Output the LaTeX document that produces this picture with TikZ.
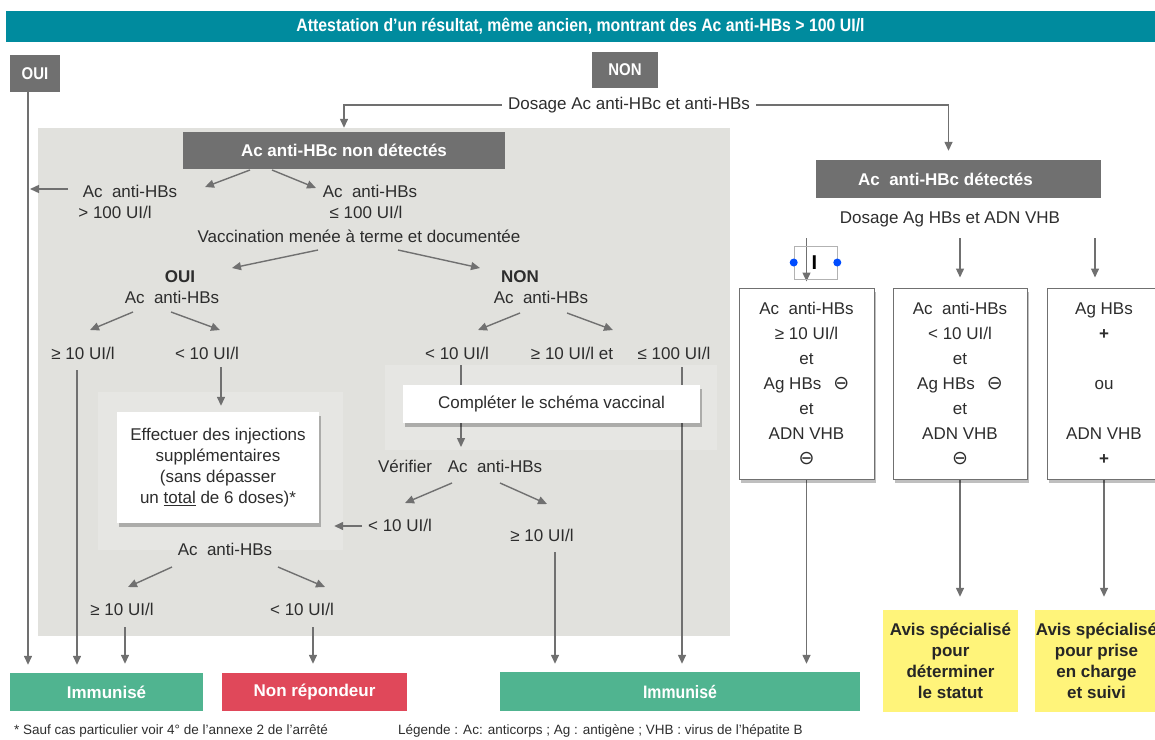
\documentclass[tikz,border=0pt]{standalone}
\usepackage{fontspec}
\setmainfont{Liberation Sans}
\newfontfamily\condf[FakeStretch=0.88]{Liberation Sans}
\newfontfamily\symf{DejaVu Sans}
\usetikzlibrary{arrows.meta,calc,shadows}
\definecolor{teal1}{RGB}{0,139,158}
\definecolor{dgray}{RGB}{112,112,112}
\definecolor{bggray}{RGB}{225,225,221}
\definecolor{patchc}{RGB}{230,230,227}
\definecolor{lgreen}{RGB}{80,180,144}
\definecolor{lred}{RGB}{224,72,90}
\definecolor{lyellow}{RGB}{255,244,122}
\definecolor{lcol}{RGB}{112,112,112}
\definecolor{tcol}{RGB}{45,45,45}
\pgfdeclarelayer{bg}
\pgfdeclarelayer{lines}
\pgfsetlayers{bg,lines,main}
\newcommand{\om}{{\symf\fontsize{19}{20}\selectfont ⊖}}
\tikzset{
  txt/.style={text=tcol, font=\fontsize{17}{20}\selectfont, inner sep=1pt},
  conn/.style={draw=lcol, line width=1.4pt},
  arr/.style={conn, -{Triangle[length=9pt,width=8pt]}},
  headbox/.style={fill=dgray, text=white, font=\bfseries\fontsize{17}{20}\selectfont, inner sep=0pt},
  smallhead/.style={fill=dgray, text=white, font=\condf\bfseries\fontsize{17}{20}\selectfont, inner sep=0pt},
  shad/.style={drop shadow={shadow xshift=2pt, shadow yshift=-4pt, opacity=0.25, fill=black}},
  whitebox/.style={fill=white, text=tcol, align=center, inner sep=0pt, shad},
  framebox/.style={whitebox, draw=dgray, line width=1pt, font=\fontsize{17}{25}\selectfont},
  resbox/.style={text=white, inner sep=0pt, font=\bfseries\fontsize{17}{20}\selectfont},
  yelbox/.style={fill=lyellow, text=black!85, align=center, inner sep=0pt, font=\bfseries\fontsize{17}{21}\selectfont},
  foot/.style={text=tcol, font=\fontsize{13.5}{16}\selectfont, inner sep=0pt, anchor=west}
}
\begin{document}
\begin{tikzpicture}[x=1pt,y=-1pt]
\useasboundingbox (0,0) rectangle (1155,739);
\begin{pgfonlayer}{bg}
  \fill[bggray] (38,128) rectangle (730,636);
  \fill[patchc] (98,392) rectangle (343,550);
  \fill[patchc] (385,365) rectangle (717,450);
\end{pgfonlayer}

% header
\node[fill=teal1, text=white, font=\condf\bfseries\fontsize{18}{20}\selectfont, minimum width=1149pt, minimum height=31pt, inner sep=0pt] (title) at (580.5,26.5) {Attestation d’un résultat, même ancien, montrant des Ac anti-HBs > 100 UI/l};
\node[smallhead, minimum width=50pt, minimum height=37pt] (oui) at (35,73.5) {OUI};
\node[smallhead, minimum width=66pt, minimum height=36pt] (non) at (625,70) {NON};
\node[txt, inner sep=6pt] (dosage1) at (629,105) {Dosage Ac anti-HBc et anti-HBs};

% left branch
\node[headbox, minimum width=322pt, minimum height=37pt] (nd) at (344,150.5) {Ac anti-HBc non détectés};
\node[txt] (hbsA) at (130,191) {Ac~~anti-HBs};
\node[txt] (gt100) at (115,212) {> 100 UI/l};
\node[txt] (hbsB) at (370,191) {Ac~~anti-HBs};
\node[txt] (le100) at (366,212) {≤ 100 UI/l};
\node[txt] (vacc) at (359,236) {Vaccination menée à terme et documentée};
\node[txt, font=\bfseries\fontsize{17}{20}\selectfont] (oui2) at (180,277) {OUI};
\node[txt] (hbsC) at (172,297) {Ac~~anti-HBs};
\node[txt] (ge10a) at (83,353) {≥ 10 UI/l};
\node[txt] (lt10a) at (207,353) {< 10 UI/l};
\node[whitebox, minimum width=202pt, minimum height=111pt, font=\fontsize{17}{21}\selectfont] (eff) at (218,467.5) {Effectuer des injections\\supplémentaires\\(sans dépasser\\un \underline{total} de 6 doses)*};
\node[txt] (hbsD) at (225,549) {Ac~~anti-HBs};
\node[txt] (ge10b) at (122,609) {≥ 10 UI/l};
\node[txt] (lt10b) at (302,609) {< 10 UI/l};
\node[resbox, fill=lgreen, minimum width=193pt, minimum height=38pt] (imm1) at (106.5,692) {Immunisé};
\node[resbox, fill=lred, minimum width=185pt, minimum height=38pt] (nonrep) at (314.5,692) {Non répondeur};

% NON sub-branch
\node[txt, font=\bfseries\fontsize{17}{20}\selectfont] (non2) at (520,277) {NON};
\node[txt] (hbsE) at (541,297) {Ac~~anti-HBs};
\node[txt] (lt10c) at (457,353) {< 10 UI/l};
\node[txt] (ge10et) at (572,353) {≥ 10 UI/l et};
\node[txt] (le100b) at (674,353) {≤ 100 UI/l};
\node[whitebox, minimum width=297pt, minimum height=38pt, font=\fontsize{17}{20}\selectfont] (compl) at (551.5,404) {Compléter le schéma vaccinal};
\node[txt] (verif) at (405,466) {Vérifier};
\node[txt] (hbsF) at (495,466) {Ac~~anti-HBs};
\node[txt] (lt10d) at (400,525) {< 10 UI/l};
\node[txt] (ge10c) at (542,535) {≥ 10 UI/l};
\node[resbox, fill=lgreen, font=\condf\bfseries\fontsize{18}{20}\selectfont, minimum width=360pt, minimum height=39pt] (imm2) at (680,691.5) {Immunisé};

% right branch
\node[headbox, minimum width=285pt, minimum height=38pt] (det) at (958.5,179) {Ac~~anti-HBc détectés\hspace*{26pt}};
\node[txt] (dosage2) at (950,219) {Dosage Ag HBs et ADN VHB};
\node[framebox, minimum width=135pt, minimum height=191pt] (b1) at (806.5,383.5) {Ac~~anti-HBs\\≥ 10 UI/l\\et\\Ag HBs\hspace{12pt}\om\\et\\ADN VHB\\\om};
\node[framebox, minimum width=134pt, minimum height=191pt] (b2) at (960,383.5) {Ac~~anti-HBs\\< 10 UI/l\\et\\Ag HBs\hspace{12pt}\om\\et\\ADN VHB\\\om};
\node[framebox, minimum width=114pt, minimum height=191pt] (b3) at (1104,383.5) {Ag HBs\\\textbf{+}\\[25pt]ou\\[25pt]ADN VHB\\\textbf{+}};
\node[draw=gray!60, line width=0.6pt, minimum width=43pt, minimum height=33pt, inner sep=0pt, font=\bfseries\fontsize{20}{20}\selectfont] (cursor) at (815.5,262.5) {I\hspace*{2pt}};
\fill[blue!70!cyan] (cursor.west) circle (4pt) (cursor.east) circle (4pt);
\node[yelbox, minimum width=135pt, minimum height=102pt] (y1) at (950.5,661) {Avis spécialisé\\pour\\déterminer\\le statut};
\node[yelbox, minimum width=123pt, minimum height=102pt] (y2) at (1096.5,661) {Avis spécialisé\\pour prise\\en charge\\et suivi};

% footnotes
\node[foot] (f1) at (14,731) {* Sauf cas particulier voir 4° de l’annexe 2 de l’arrêté};
\node[foot] (f2) at (398,731) {Légende : Ac: anticorps ; Ag : antigène ; VHB : virus de l’hépatite B};

% connectors
\begin{pgfonlayer}{lines}
\coordinate (ouix) at ($(oui.south)+(-7,0)$);
\draw[arr, shorten >=8pt] (ouix) -- (ouix |- imm1.north);
\draw[arr, shorten >=4pt] (dosage1.west) -| (nd.north);
\draw[arr, shorten >=9pt] (dosage1.east) -| ($(det.north)+(-10,0)$);
\draw[arr] ($(nd)+(-94,19.5)$) -- ($(hbsA)+(75,-4)$);
\draw[arr] ($(nd)+(-72,19.5)$) -- ($(hbsB)+(-54,-3)$);
\draw[arr] ($(hbsA)+(-62,-2)$) -- ($(hbsA -| ouix)+(2,-2)$);
\draw[arr] ($(vacc)+(-41,14)$) -- ($(oui2)+(52,-9)$);
\draw[arr] ($(vacc)+(39,14)$) -- ($(non2)+(-40,-9)$);
\draw[arr] ($(hbsC)+(-39,15)$) -- ($(ge10a)+(7,-23)$);
\draw[arr] ($(hbsC)+(-1,15)$) -- ($(lt10a)+(13,-23)$);
\coordinate (ga) at ($(ge10a)+(-6,17)$);
\draw[arr, shorten >=8pt] (ga) -- (ga |- imm1.north);
\coordinate (la) at ($(lt10a)+(14,14)$);
\draw[arr, shorten >=6pt] (la) -- (la |- eff.north);
\coordinate (ld) at ($(lt10d)+(-38,1)$);
\draw[arr, shorten >=15pt] (ld) -- (ld -| eff.east);
\draw[arr] ($(hbsD)+(-53,18)$) -- ($(ge10b)+(6,-22)$);
\draw[arr] ($(hbsD)+(53,18)$) -- ($(lt10b)+(23,-22)$);
\coordinate (gb) at ($(ge10b)+(3,18)$);
\draw[arr, shorten >=9pt] (gb) -- (gb |- imm1.north);
\coordinate (lb) at ($(lt10b)+(11,18)$);
\draw[arr, shorten >=9pt] (lb) -- (lb |- nonrep.north);
\draw[arr] ($(hbsE)+(-21,16)$) -- ($(lt10c)+(21,-23)$);
\draw[arr] ($(hbsE)+(26,16)$) -- ($(ge10et)+(41,-23)$);
\draw[arr] ($(lt10c)+(4,12)$) -- ($(hbsF)+(-34,-19)$);
\coordinate (lc) at ($(le100b)+(8,14)$);
\draw[arr, shorten >=8pt] (lc) -- (lc |- imm2.north);
\draw[arr] ($(hbsF)+(-43,17)$) -- ($(lt10d)+(5,-22)$);
\draw[arr] ($(hbsF)+(5,17)$) -- ($(ge10c)+(5,-31)$);
\coordinate (gc) at ($(ge10c)+(13,17)$);
\draw[arr, shorten >=8pt] (gc) -- (gc |- imm2.north);
\coordinate (dtop) at ($(dosage2)+(0,19)$);
\draw[arr, shorten >=6pt] (dtop -| b1.north) -- (b1.north);
\draw[arr, shorten >=10pt] (dtop -| b2.north) -- (b2.north);
\coordinate (b3x) at ($(b3.north)+(-9,0)$);
\draw[arr, shorten >=10pt] (dtop -| b3x) -- (b3x);
\draw[arr, shorten >=8pt] (b1.south) -- (b1.south |- imm2.north);
\draw[arr, shorten >=13pt] (b2.south) -- (b2.south |- y1.north);
\draw[arr, shorten >=13pt] (b3.south) -- (b3.south |- y2.north);
\end{pgfonlayer}
\end{tikzpicture}
\end{document}
